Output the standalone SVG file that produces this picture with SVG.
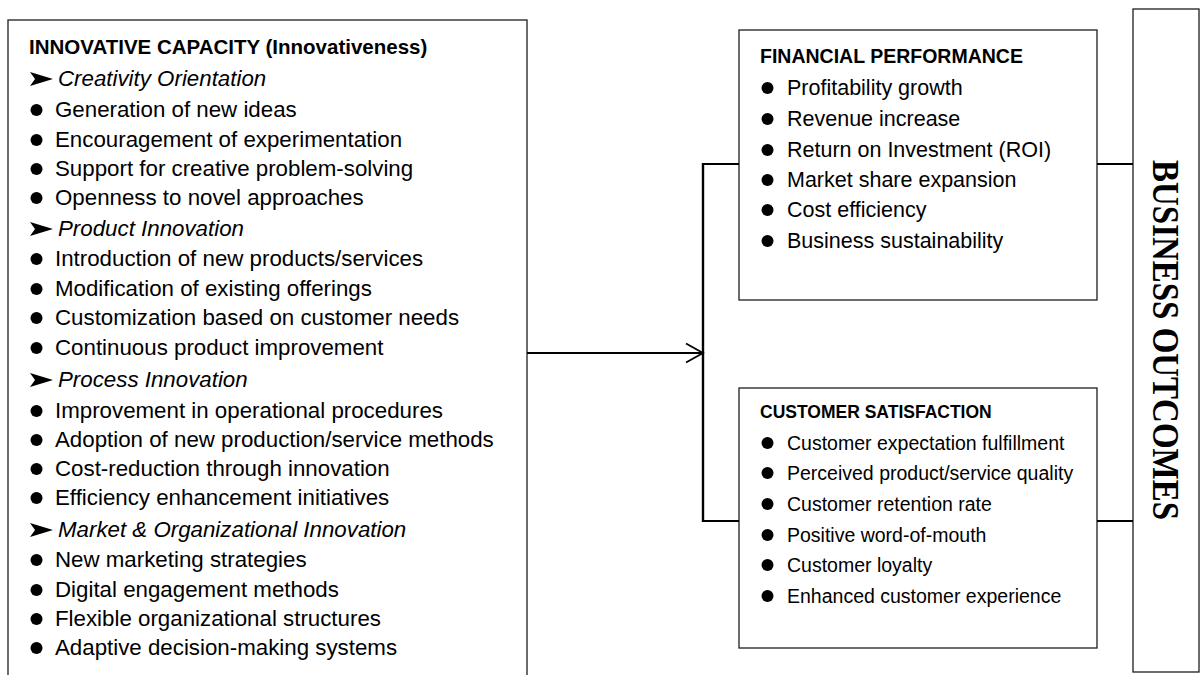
<svg xmlns="http://www.w3.org/2000/svg" width="1201" height="675" viewBox="0 0 1201 675">
  <defs>
    <style>
      .box { fill: #ffffff; stroke: #1e1e1e; stroke-width: 1.3; }
      .txt { font-family: "Liberation Sans", Arial, sans-serif; fill: #000000; }
      .head { font-weight: bold; }
      .sub { font-style: italic; }
      .xl { font-size: 22.3px; }
      .lg { font-size: 21.5px; }
      .sm { font-size: 19.5px; }
      .wire { fill: none; stroke: #000000; stroke-width: 1.8; }
      .spine { fill: none; stroke: #000000; stroke-width: 2.4; }
      .side { font-family: "Liberation Serif", "Times New Roman", serif; font-weight: bold; font-size: 37px; fill: #000000; }
    </style>
    <circle id="dot" r="6" fill="#000000"/>
    <polygon id="pointer" points="0,-7 23,0 0,7 5,0" fill="#000000"/>
    <marker id="open-arrow" markerUnits="userSpaceOnUse" markerWidth="24" markerHeight="24" viewBox="-20 -12 24 24" refX="0" refY="0" orient="auto">
      <polyline points="-17,-9.5 0,0 -17,9.5" fill="none" stroke="#000000" stroke-width="1.8"/>
    </marker>
  </defs>

  <rect width="1201" height="675" fill="#ffffff"/>

  <!-- Innovative capacity (left column, runs past the bottom edge) -->
  <g id="innovative-capacity">
    <rect class="box" x="8" y="20" width="519" height="680"/>
    <g class="txt xl">
      <text class="head" x="29" y="54" font-size="20.5">INNOVATIVE CAPACITY (Innovativeness)</text>

      <use href="#pointer" x="30" y="79"/>
      <text class="sub" x="58" y="86">Creativity Orientation</text>
      <use href="#dot" x="36.5" y="110"/>
      <text x="55" y="117">Generation of new ideas</text>
      <use href="#dot" x="36.5" y="140"/>
      <text x="55" y="147">Encouragement of experimentation</text>
      <use href="#dot" x="36.5" y="169"/>
      <text x="55" y="176">Support for creative problem-solving</text>
      <use href="#dot" x="36.5" y="198"/>
      <text x="55" y="205">Openness to novel approaches</text>

      <use href="#pointer" x="30" y="229"/>
      <text class="sub" x="58" y="236">Product Innovation</text>
      <use href="#dot" x="36.5" y="259"/>
      <text x="55" y="266">Introduction of new products/services</text>
      <use href="#dot" x="36.5" y="289"/>
      <text x="55" y="296">Modification of existing offerings</text>
      <use href="#dot" x="36.5" y="318"/>
      <text x="55" y="325">Customization based on customer needs</text>
      <use href="#dot" x="36.5" y="348"/>
      <text x="55" y="355">Continuous product improvement</text>

      <use href="#pointer" x="30" y="380"/>
      <text class="sub" x="58" y="387">Process Innovation</text>
      <use href="#dot" x="36.5" y="411"/>
      <text x="55" y="418">Improvement in operational procedures</text>
      <use href="#dot" x="36.5" y="440"/>
      <text x="55" y="447">Adoption of new production/service methods</text>
      <use href="#dot" x="36.5" y="469"/>
      <text x="55" y="476">Cost-reduction through innovation</text>
      <use href="#dot" x="36.5" y="498"/>
      <text x="55" y="505">Efficiency enhancement initiatives</text>

      <use href="#pointer" x="30" y="530"/>
      <text class="sub" x="58" y="537">Market &amp; Organizational Innovation</text>
      <use href="#dot" x="36.5" y="560"/>
      <text x="55" y="567">New marketing strategies</text>
      <use href="#dot" x="36.5" y="590"/>
      <text x="55" y="597">Digital engagement methods</text>
      <use href="#dot" x="36.5" y="619"/>
      <text x="55" y="626">Flexible organizational structures</text>
      <use href="#dot" x="36.5" y="648"/>
      <text x="55" y="655">Adaptive decision-making systems</text>
    </g>
  </g>

  <!-- Financial performance -->
  <g id="financial-performance">
    <rect class="box" x="739" y="30" width="358" height="270"/>
    <g class="txt lg">
      <text class="head" x="760" y="63" font-size="19.5">FINANCIAL PERFORMANCE</text>
      <use href="#dot" x="767.5" y="88"/>
      <text x="787" y="95">Profitability growth</text>
      <use href="#dot" x="767.5" y="119"/>
      <text x="787" y="126">Revenue increase</text>
      <use href="#dot" x="767.5" y="150"/>
      <text x="787" y="157">Return on Investment (ROI)</text>
      <use href="#dot" x="767.5" y="180"/>
      <text x="787" y="187">Market share expansion</text>
      <use href="#dot" x="767.5" y="210"/>
      <text x="787" y="217">Cost efficiency</text>
      <use href="#dot" x="767.5" y="241"/>
      <text x="787" y="248">Business sustainability</text>
    </g>
  </g>

  <!-- Customer satisfaction -->
  <g id="customer-satisfaction">
    <rect class="box" x="739" y="388" width="358" height="260"/>
    <g class="txt sm">
      <text class="head" x="760" y="418" font-size="17.5">CUSTOMER SATISFACTION</text>
      <use href="#dot" x="767.5" y="443"/>
      <text x="787" y="450">Customer expectation fulfillment</text>
      <use href="#dot" x="767.5" y="473"/>
      <text x="787" y="480">Perceived product/service quality</text>
      <use href="#dot" x="767.5" y="504"/>
      <text x="787" y="511">Customer retention rate</text>
      <use href="#dot" x="767.5" y="535"/>
      <text x="787" y="542">Positive word-of-mouth</text>
      <use href="#dot" x="767.5" y="565"/>
      <text x="787" y="572">Customer loyalty</text>
      <use href="#dot" x="767.5" y="596"/>
      <text x="787" y="603">Enhanced customer experience</text>
    </g>
  </g>

  <!-- Business outcomes (vertical label) -->
  <g id="business-outcomes">
    <rect class="box" x="1133" y="9" width="66" height="663"/>
    <text class="side" transform="translate(1153,160) rotate(90)" textLength="360" lengthAdjust="spacingAndGlyphs">BUSINESS OUTCOMES</text>
  </g>

  <!-- Connectors -->
  <g id="connectors">
    <line class="wire" x1="527" y1="353" x2="703" y2="353" marker-end="url(#open-arrow)"/>
    <line class="spine" x1="703" y1="163" x2="703" y2="522"/>
    <line class="wire" x1="702" y1="164" x2="739" y2="164"/>
    <line class="wire" x1="702" y1="521" x2="739" y2="521"/>
    <line class="wire" x1="1097" y1="164" x2="1133" y2="164"/>
    <line class="wire" x1="1097" y1="521" x2="1133" y2="521"/>
  </g>
</svg>
